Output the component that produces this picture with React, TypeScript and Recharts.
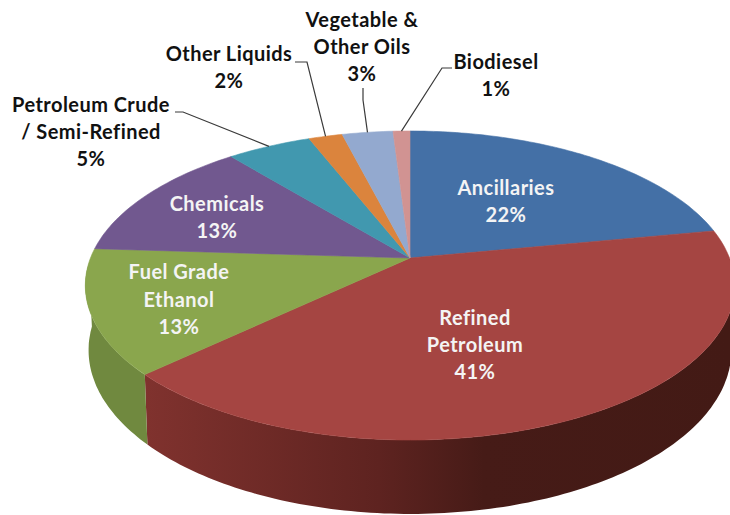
import React from "react";
import { PieChart, Pie } from "recharts";

const categories = ["Ancillaries", "Refined Petroleum", "Fuel Grade Ethanol", "Chemicals", "Petroleum Crude / Semi-Refined", "Other Liquids", "Vegetable & Other Oils", "Biodiesel"];
const shares = [22, 41, 13, 13, 5, 2, 3, 1];
const topColors = ["#4470a6", "#a54542", "#8aa64d", "#71588f", "#4198af", "#db843d", "#93a9cf", "#d19392"];

// label text, one entry per line
const labelLines = [
  ["Ancillaries", "22%"],
  ["Refined", "Petroleum", "41%"],
  ["Fuel Grade", "Ethanol", "13%"],
  ["Chemicals", "13%"],
  ["Petroleum Crude", "/ Semi-Refined", "5%"],
  ["Other Liquids", "2%"],
  ["Vegetable &", "Other Oils", "3%"],
  ["Biodiesel", "1%"],
];
const labelCenters = [506, 475, 179, 217, 91, 229, 362, 496];
const labelBaselines = [
  [195, 222],
  [325, 352, 379],
  [279, 307, 334],
  [211, 238],
  [112, 139, 166],
  [61, 88],
  [27, 54, 81],
  [69, 96],
];
const labelColors = ["#f4f4f4", "#f4f4f4", "#f4f4f4", "#f4f4f4", "#111", "#111", "#111", "#111"];
// start of the leader line, then its elbow; the end is on the rim of the slice
const leaders: (number[][] | null)[] = [
  null, null, null, null,
  [[175, 112], [183, 112]],
  [[295, 62], [307, 62]],
  [[363, 88], [363, 100]],
  [[452, 68], [442, 68]],
];

const CX = 410;
const CY = 258;
const RADIUS = 150;

// the tilted disc: circle -> off-centre ellipse
const TILT = 0.178;
const SCALE_X = 319.5 / RADIUS;
const SCALE_Y = 149.6 / RADIUS;

const project = (clock: number) => {
  const rad = (clock * Math.PI) / 180;
  const px = Math.sin(rad) * RADIUS;
  const py = -Math.cos(rad) * RADIUS;
  const d = 1 - (TILT * py) / RADIUS;
  return [(px / d) * SCALE_X, (py / d) * SCALE_Y];
};
const rim = (clock: number) => {
  const [u, v] = project(clock);
  return [CX + u, CY + v];
};
const base = (clock: number) => {
  const [u, v] = project(clock);
  return [CX + u * 0.99, CY + v * 1.06 + 63];
};

const samples = (from: number, to: number) => {
  const out: number[] = [];
  const n = Math.max(2, Math.ceil(Math.abs(to - from)));
  for (let i = 0; i <= n; i++) out.push(from + ((to - from) * i) / n);
  return out;
};
const toPath = (pts: number[][]) => pts.map((p, i) => `${i ? "L" : "M"}${p[0].toFixed(1)} ${p[1].toFixed(1)}`).join(" ") + " Z";

const TopFace = (props: any) => {
  const a = 90 - props.startAngle;
  const b = 90 - props.endAngle;
  const d = toPath([[CX, CY], ...samples(a, b).map(rim)]);
  return <path d={d} fill={props.fill} stroke={props.fill} strokeWidth={0.6} />;
};

const Wall = (props: any) => {
  const a = Math.max(90 - props.startAngle, 95);
  const b = Math.min(90 - props.endAngle, 268);
  if (b <= a) return <g />;
  const c = samples(a, b);
  const d = toPath([...c.map(rim), ...c.slice().reverse().map(base)]);
  return <path d={d} fill={props.index === 1 ? "url(#redWall)" : "#70893f"} />;
};

const SliceLabel = (props: any) => {
  const i = props.index;
  const leader = leaders[i];
  const end = rim(90 - props.midAngle);
  return (
    <g>
      {leader && (
        <polyline
          points={[...leader, end].map((p) => p.join(",")).join(" ")}
          fill="none"
          stroke="#3a3a3a"
          strokeWidth={1.2}
        />
      )}
      <text
        textAnchor="middle"
        fontFamily="Lato, sans-serif"
        fontWeight={700}
        fontSize={20}
        letterSpacing={0.45}
        fill={labelColors[i]}
      >
        {labelLines[i].map((line, k) => (
          <tspan key={k} x={labelCenters[i]} y={labelBaselines[i][k]}>{line}</tspan>
        ))}
      </text>
    </g>
  );
};

const rows = categories.map((name, i) => ({ name, value: shares[i], fill: topColors[i] }));

export default function App() {
  return (
    <div style={{ position: "absolute", left: 0, top: 0, width: 730, height: 515, background: "#fff" }}>
      <PieChart width={730} height={515} margin={{ top: 0, right: 0, bottom: 0, left: 0 }}>
        <defs>
          <linearGradient id="redWall" gradientUnits="userSpaceOnUse" x1={145} y1={0} x2={730} y2={0}>
            <stop offset="0" stopColor="#80322e" />
            <stop offset="0.4" stopColor="#5e2320" />
            <stop offset="0.58" stopColor="#461b17" />
            <stop offset="1" stopColor="#431a15" />
          </linearGradient>
        </defs>
        <Pie
          data={rows}
          dataKey="value"
          cx={CX}
          cy={CY}
          outerRadius={RADIUS}
          startAngle={90}
          endAngle={-270}
          stroke="none"
          shape={Wall}
          label={false}
          labelLine={false}
          isAnimationActive={false}
        />
        <Pie
          data={rows}
          dataKey="value"
          cx={CX}
          cy={CY}
          outerRadius={RADIUS}
          startAngle={90}
          endAngle={-270}
          stroke="none"
          shape={TopFace}
          label={SliceLabel}
          labelLine={false}
          isAnimationActive={false}
        />
      </PieChart>
    </div>
  );
}
